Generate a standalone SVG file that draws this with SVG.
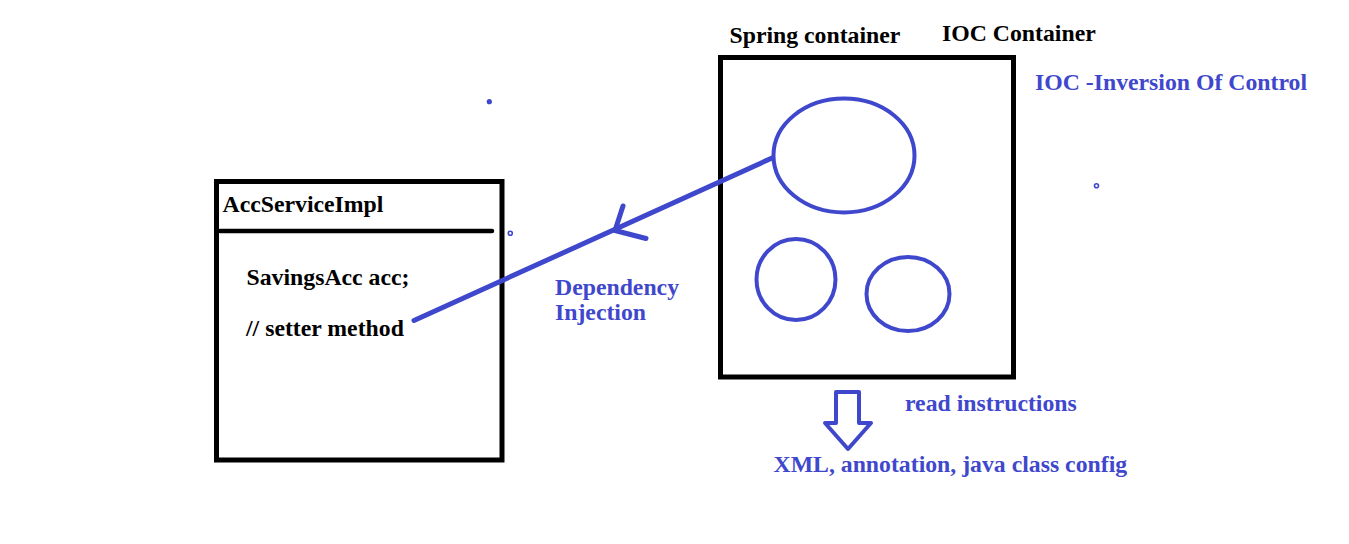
<svg xmlns="http://www.w3.org/2000/svg" width="1349" height="544" viewBox="0 0 1349 544">
<style>
.t{font-family:"Liberation Serif","Times New Roman",serif;font-weight:bold;font-size:23.75px}
.k{fill:#000}
.b{fill:#3f48cc}
.box{fill:none;stroke:#000;stroke-width:5}
.bl{fill:none;stroke:#3f48cc;stroke-linecap:round;stroke-linejoin:round}
</style>
<rect width="1349" height="544" fill="#fff"/>
<g id="acc-service-impl">
<rect class="box" x="216.5" y="181.5" width="285.5" height="278.5"/>
<line x1="220" y1="231" x2="492" y2="231" stroke="#000" stroke-width="4.5" stroke-linecap="round"/>
<text class="t k" x="222.5" y="212">AccServiceImpl</text>
<text class="t k" x="246.5" y="285">SavingsAcc acc;</text>
<text class="t k" x="246" y="336">// setter method</text>
</g>
<g id="spring-container">
<rect class="box" x="720.5" y="57.5" width="293" height="319.5"/>
<text class="t k" x="729.5" y="43">Spring container</text>
<text class="t k" x="942" y="41">IOC Container</text>
<ellipse class="bl" stroke-width="4" cx="844" cy="155.5" rx="70.5" ry="57"/>
<ellipse class="bl" stroke-width="4" cx="796" cy="279.5" rx="39.5" ry="40.5"/>
<ellipse class="bl" stroke-width="4" cx="908" cy="294" rx="41.5" ry="37"/>
</g>
<g id="ioc-label">
<text class="t b" x="1035" y="90">IOC -Inversion Of Control</text>
</g>
<g id="config">
<polygon class="bl" stroke-width="4" points="836,392 859,392 859,423 871,423 848,449 825,423 836,423"/>
<text class="t b" x="905" y="411">read instructions</text>
<text class="t b" x="773.5" y="472">XML, annotation, java class config</text>
</g>
<g id="connectors">
<line class="bl" stroke-width="5" x1="414" y1="320.5" x2="772" y2="158"/>
<polyline class="bl" stroke-width="5" points="623,206 615,230.5 646,238.5"/>
<text class="t b" x="555" y="295">Dependency</text>
<text class="t b" x="555" y="320">Injection</text>
</g>
<g id="marks">
<circle cx="489.3" cy="101.7" r="2.6" fill="#3f48cc"/>
<circle cx="510.3" cy="233.3" r="2" fill="none" stroke="#3f48cc" stroke-width="1.6"/>
<circle cx="1096.5" cy="185.7" r="2" fill="none" stroke="#3f48cc" stroke-width="1.6"/>
</g>
</svg>
